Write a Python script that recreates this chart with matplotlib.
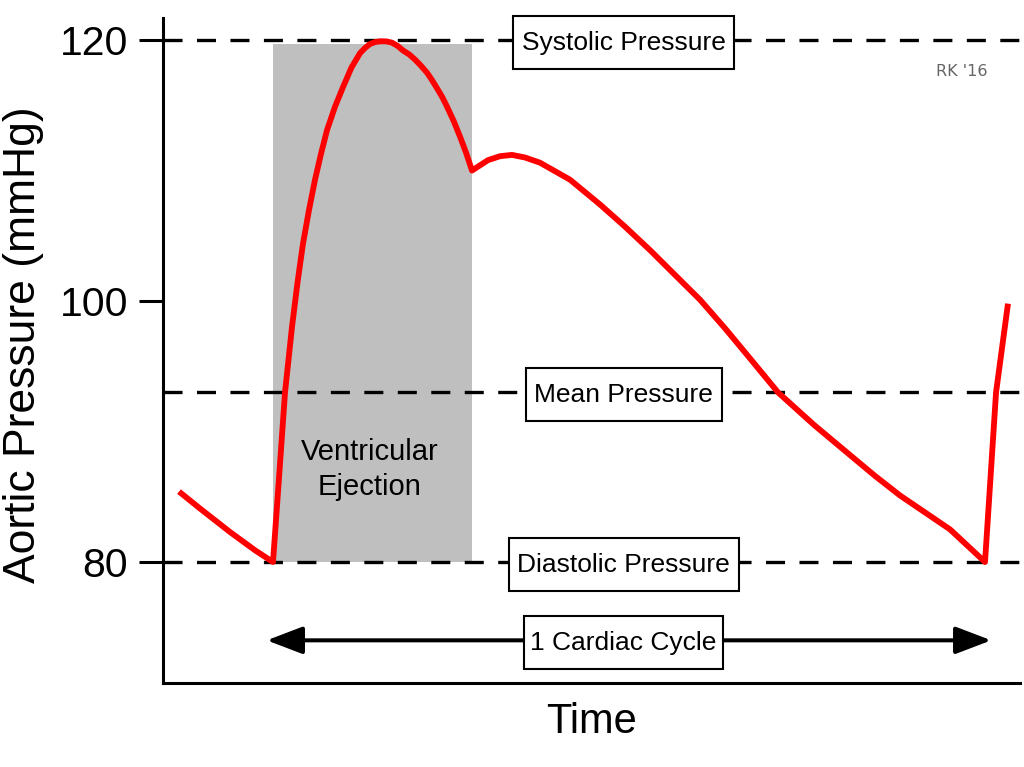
import matplotlib
matplotlib.use("Agg")
import matplotlib.pyplot as plt
from matplotlib.patches import Rectangle
from matplotlib.path import Path

plt.rcParams['font.family'] = ['Liberation Sans', 'DejaVu Sans']
plt.rcParams['lines.scale_dashes'] = False

# ---- data (time in arbitrary ms-like units, pressure in mmHg) ----
time = [-105.6, -82.0, -48.3, -20.2, 0.0, 6.7, 13.5, 21.3, 27.5, 33.7, 40.5, 47.2, 54.0,
        60.7, 69.7, 78.7, 88.2, 97.8, 103.5, 109.0, 115.0, 120.2, 127.0, 133.7, 140.0,
        146.1, 153.0, 159.6, 166.0, 173.0, 178.5, 184.3, 190.0, 195.5, 203.0, 210.1,
        217.0, 223.6, 230.3, 241.6, 255.1, 268.5, 283.1, 300.0, 333.7, 367.4, 395.5,
        423.6, 451.7, 479.8, 508.0, 536.0, 567.4, 608.0, 648.3, 676.4, 704.5, 732.6,
        760.7, 800.0, 812.4, 825.8]
pressure = [85.4, 84.1, 82.3, 80.9, 80.0, 86.4, 93.0, 98.0, 101.4, 104.4, 107.0, 109.3,
            111.3, 113.1, 114.9, 116.4, 117.9, 119.0, 119.4, 119.7, 119.85, 119.9, 119.9,
            119.8, 119.55, 119.2, 118.9, 118.5, 118.05, 117.5, 116.95, 116.3, 115.65,
            114.9, 113.8, 112.6, 111.35, 110.0, 110.3, 110.8, 111.1, 111.2, 111.0, 110.6,
            109.3, 107.4, 105.7, 103.9, 102.0, 100.1, 97.9, 95.6, 93.0, 90.5, 88.2, 86.6,
            85.1, 83.8, 82.5, 80.0, 93.0, 99.8]

ejection_start, ejection_end = 0.0, 223.6
ejection_top = 119.7
cycle_start, cycle_end = 0.0, 800.0
cycle_arrow_level = 74.0

ref_levels = [120, 93, 80]
ref_labels = ["Systolic Pressure", "Mean Pressure", "Diastolic Pressure"]
label_x = 394.0
yticks = [80, 100, 120]


def rect_box(padx, pady):
    def style(x0, y0, width, height, mutation_size):
        px, py = padx * mutation_size, pady * mutation_size
        x0, y0 = x0 - px, y0 - py
        x1, y1 = x0 + width + 2 * px, y0 + height + 2 * py
        return Path([(x0, y0), (x1, y0), (x1, y1), (x0, y1), (x0, y0)], closed=True)
    return style


# ---- figure ----
fig = plt.figure(figsize=(10.24, 7.67), dpi=100)
ax = fig.add_axes([163/1024, 1 - 683/767, (1020-163)/1024, (683-18)/767])
ax.set_xlim(-123.6, 839.3)
ax.set_ylim(70.73, 121.69)

# ejection shading
ax.add_patch(Rectangle((ejection_start, 80), ejection_end - ejection_start,
                       ejection_top - 80, facecolor='#bfbfbf', edgecolor='none', zorder=1))

# reference dashed lines
for lvl in ref_levels:
    ax.axhline(lvl, color='black', lw=2.4, dashes=(13.7, 10.4), zorder=2)

# pressure curve
ax.plot(time, pressure, color='#ff0000', lw=4.2, solid_joinstyle='round',
        solid_capstyle='butt', zorder=5)

# cardiac cycle arrow (tips extended slightly to compensate for stroke shrink)
ax.annotate('', xy=(cycle_end + 7, cycle_arrow_level), xytext=(cycle_start - 7, cycle_arrow_level),
            arrowprops=dict(arrowstyle='<|-|>,head_length=1.1,head_width=0.42',
                            mutation_scale=20, lw=2.9, color='black',
                            shrinkA=0, shrinkB=0), zorder=3)

for lvl, lab in zip(ref_levels, ref_labels):
    ax.text(label_x, lvl, lab, ha='center', va='center_baseline', fontsize=19, zorder=6,
            bbox=dict(boxstyle=rect_box(0.33, 0.55), facecolor='white',
                      edgecolor='black', lw=1.5))
ax.text(label_x, cycle_arrow_level, "1 Cardiac Cycle", ha='center', va='center_baseline',
        fontsize=19, zorder=6,
        bbox=dict(boxstyle=rect_box(0.25, 0.55), facecolor='white',
                  edgecolor='black', lw=1.5))

ax.text(109.0, 87.1, "Ventricular\nEjection", ha='center', va='center', fontsize=21,
        linespacing=1.3, zorder=6)

ax.text(774, 117.6, "RK '16", ha='center', va='center', fontsize=11.5, color='#666666',
        family=['DejaVu Sans'])

# axes styling
for s in ['top', 'right']:
    ax.spines[s].set_visible(False)
for s in ['left', 'bottom']:
    ax.spines[s].set_linewidth(2.2)
ax.set_xticks([])
ax.set_yticks(yticks)
ax.set_yticklabels([str(v) for v in yticks])
ax.tick_params(axis='y', length=17, width=2.2, pad=8, labelsize=29.5)
ax.set_ylabel("Aortic Pressure (mmHg)", fontsize=32, labelpad=11)
ax.yaxis.label.set_y(0.508)
ax.set_xlabel("Time", fontsize=30, labelpad=14)

fig.savefig("out.png", dpi=100)
